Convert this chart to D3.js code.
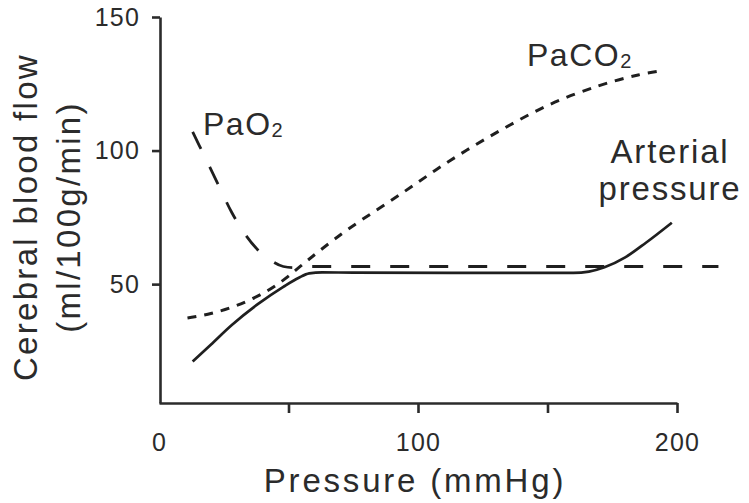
<!DOCTYPE html>
<html>
<head>
<meta charset="utf-8">
<script src="https://cdn.jsdelivr.net/npm/d3@7"></script>
<style>
  body { margin: 0; background: #fff; }
  svg text { font-family: "Liberation Sans", Arial, sans-serif; fill: #2b2b2b; }
</style>
</head>
<body>
<div id="chart"></div>
<script>
// curve values: [pressure mmHg, flow ml/100g/min]
var arterial = [[13, 21], [20, 27.3], [28, 34.6], [38, 42.4], [48, 49], [54, 52.4], [58, 54],
  [63, 54.4], [75, 54.3], [160, 54.2], [166, 54.7], [172, 56.3], [180, 60], [188, 65.5], [198, 73]]
var paco2 = [[11, 37.3], [20, 39], [30, 42], [40, 46.5], [48, 51.5], [55, 57], [62, 62.5],
  [73.7, 71], [93, 83.5], [112, 96], [131.7, 107.5], [151, 117.3], [170, 124.3], [185, 128.3], [195, 130]]
var pao2 = [[13, 107], [18, 97], [23, 87], [28, 77], [33, 69], [38, 63], [43, 59], [48, 56.6],
  [52, 56.2], [56, 56.6], [60, 56.6], [216, 56.6]]

var xTicks = [0, 50, 100, 150, 200]
var yTicks = [50, 100, 150]

var width = 749, height = 503

var svg = d3.select("#chart")
  .append("svg")
  .attr("width", width)
  .attr("height", height)

var x = d3.scaleLinear().domain([0, 200]).range([159, 677])
var y = d3.scaleLinear().domain([5.5, 150]).range([403, 17])

// axes
var xAxis = d3.axisBottom(x)
  .tickValues(xTicks)
  .tickSize(10)
  .tickSizeOuter(0)
  .tickPadding(20)
  .tickFormat(function(d) { return d % 100 === 0 ? d : "" })

svg.append("g")
  .attr("class", "x-axis")
  .attr("transform", "translate(0,403)")
  .call(xAxis)

var yAxis = d3.axisLeft(y)
  .tickValues(yTicks)
  .tickSize(8)
  .tickSizeOuter(0)
  .tickPadding(12)

svg.append("g")
  .attr("class", "y-axis")
  .attr("transform", "translate(160,0)")
  .call(yAxis)

svg.selectAll(".domain, .tick line")
  .attr("stroke", "#2b2b2b")
  .attr("stroke-width", 2.6)
svg.selectAll(".x-axis .tick").filter(function(d) { return d === 0 })
  .select("line").remove()
svg.selectAll(".tick text")
  .attr("font-size", 25)
  .attr("letter-spacing", 1.2)
  .attr("fill", "#2b2b2b")

// axis titles
svg.append("text")
  .attr("x", 415)
  .attr("y", 492)
  .attr("text-anchor", "middle")
  .attr("font-size", 33)
  .attr("letter-spacing", 2.8)
  .text("Pressure (mmHg)")

svg.append("text")
  .attr("transform", "translate(37,217) rotate(-90)")
  .attr("text-anchor", "middle")
  .attr("font-size", 33)
  .attr("letter-spacing", 2.3)
  .text("Cerebral blood flow")

svg.append("text")
  .attr("transform", "translate(80,217) rotate(-90)")
  .attr("text-anchor", "middle")
  .attr("font-size", 33)
  .attr("letter-spacing", 2.3)
  .text("(ml/100g/min)")

// curves
var line = d3.line()
  .x(function(d) { return x(d[0]) })
  .y(function(d) { return y(d[1]) })
  .curve(d3.curveMonotoneX)

var smoothLine = d3.line()
  .x(function(d) { return x(d[0]) })
  .y(function(d) { return y(d[1]) })
  .curve(d3.curveCatmullRom.alpha(0.5))

svg.append("path")
  .datum(pao2)
  .attr("d", line)
  .attr("fill", "none")
  .attr("stroke", "#1f1f1f")
  .attr("stroke-width", 2.8)
  .attr("stroke-dasharray", "19 20")

svg.append("path")
  .datum(paco2)
  .attr("d", smoothLine)
  .attr("fill", "none")
  .attr("stroke", "#1f1f1f")
  .attr("stroke-width", 3)
  .attr("stroke-dasharray", "9 8")

svg.append("path")
  .datum(arterial)
  .attr("d", line)
  .attr("fill", "none")
  .attr("stroke", "#1f1f1f")
  .attr("stroke-width", 2.7)

// curve labels
var pao2Label = svg.append("text")
  .attr("x", 203)
  .attr("y", 135)
  .attr("font-size", 32)
  .attr("letter-spacing", 1.5)
pao2Label.append("tspan").text("PaO")
pao2Label.append("tspan").attr("font-size", 20).attr("dy", 2).text("2")

var paco2Label = svg.append("text")
  .attr("x", 527)
  .attr("y", 66)
  .attr("font-size", 32)
  .attr("letter-spacing", 1.5)
paco2Label.append("tspan").text("PaCO")
paco2Label.append("tspan").attr("font-size", 20).attr("dy", 2).text("2")

svg.append("text")
  .attr("x", 670)
  .attr("y", 163)
  .attr("text-anchor", "middle")
  .attr("font-size", 33)
  .attr("letter-spacing", 1.8)
  .text("Arterial")

svg.append("text")
  .attr("x", 670)
  .attr("y", 200)
  .attr("text-anchor", "middle")
  .attr("font-size", 33)
  .attr("letter-spacing", 1.8)
  .text("pressure")
</script>
</body>
</html>
